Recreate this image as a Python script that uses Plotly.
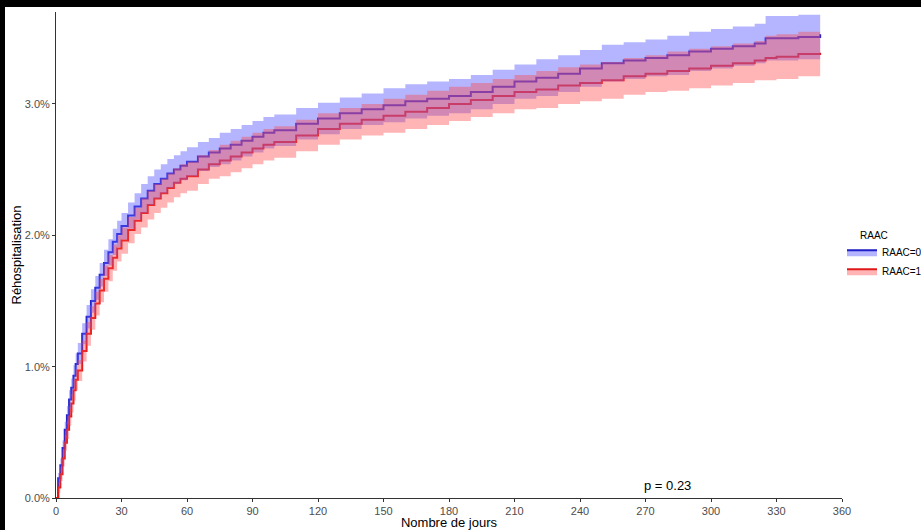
import plotly.graph_objects as go

days = [0, 1, 2, 3, 4, 5, 6, 7, 8, 9, 10, 12, 14, 16, 18, 20, 22, 24, 26, 28, 30,
        33, 36, 39, 42, 45, 48, 51, 54, 57, 60, 65, 70, 75, 80, 85, 90, 95, 100,
        110, 120, 130, 140, 150, 160, 170, 180, 190, 200, 210, 220, 230, 240, 250,
        260, 270, 280, 290, 300, 310, 320, 325, 330, 340, 350]

raac0 = [0, 0.15, 0.25, 0.38, 0.52, 0.63, 0.75, 0.84, 0.93, 1.02, 1.10, 1.25, 1.38, 1.50, 1.60, 1.70,
         1.79, 1.87, 1.95, 2.01, 2.07, 2.15, 2.22, 2.28, 2.34, 2.39, 2.43, 2.47, 2.50, 2.53, 2.56,
         2.60, 2.63, 2.66, 2.69, 2.72, 2.75, 2.78, 2.80, 2.85, 2.89, 2.93, 2.96, 2.99, 3.02, 3.04,
         3.06, 3.09, 3.13, 3.17, 3.20, 3.23, 3.27, 3.31, 3.33, 3.35, 3.37, 3.40, 3.42, 3.44, 3.46,
         3.50, 3.50, 3.51, 3.53]
raac0_lo = [0, 0.11, 0.20, 0.32, 0.46, 0.56, 0.68, 0.77, 0.85, 0.94, 1.02, 1.17, 1.29, 1.41, 1.51, 1.61,
            1.69, 1.77, 1.85, 1.91, 1.97, 2.05, 2.12, 2.17, 2.23, 2.28, 2.32, 2.36, 2.39, 2.42, 2.45,
            2.49, 2.52, 2.54, 2.57, 2.60, 2.63, 2.66, 2.68, 2.73, 2.77, 2.81, 2.84, 2.86, 2.89, 2.91,
            2.93, 2.96, 3.00, 3.04, 3.06, 3.09, 3.13, 3.17, 3.19, 3.21, 3.22, 3.25, 3.27, 3.29, 3.31,
            3.33, 3.33, 3.34, 3.36]
raac0_hi = [0, 0.19, 0.30, 0.44, 0.58, 0.70, 0.82, 0.91, 1.01, 1.10, 1.18, 1.33, 1.47, 1.59, 1.69, 1.79,
            1.89, 1.97, 2.05, 2.11, 2.17, 2.25, 2.32, 2.39, 2.45, 2.50, 2.54, 2.58, 2.61, 2.64, 2.67,
            2.71, 2.74, 2.78, 2.81, 2.84, 2.87, 2.90, 2.92, 2.97, 3.01, 3.05, 3.08, 3.12, 3.15, 3.17,
            3.19, 3.22, 3.26, 3.30, 3.34, 3.37, 3.41, 3.45, 3.47, 3.49, 3.52, 3.55, 3.57, 3.59, 3.61,
            3.67, 3.67, 3.68, 3.70]

raac1 = [0, 0.08, 0.18, 0.30, 0.42, 0.52, 0.62, 0.72, 0.82, 0.90, 0.97, 1.12, 1.25, 1.37, 1.48, 1.58,
         1.67, 1.75, 1.83, 1.90, 1.96, 2.04, 2.11, 2.17, 2.23, 2.28, 2.32, 2.36, 2.40, 2.43, 2.45,
         2.50, 2.54, 2.57, 2.60, 2.63, 2.66, 2.69, 2.71, 2.76, 2.81, 2.85, 2.88, 2.91, 2.94, 2.97,
         3.00, 3.03, 3.06, 3.09, 3.11, 3.14, 3.16, 3.18, 3.21, 3.23, 3.25, 3.27, 3.29, 3.31, 3.33,
         3.35, 3.36, 3.38, 3.39]
raac1_lo = [0, 0.04, 0.13, 0.24, 0.36, 0.45, 0.55, 0.65, 0.74, 0.82, 0.89, 1.04, 1.16, 1.28, 1.39, 1.49,
            1.57, 1.65, 1.73, 1.80, 1.86, 1.94, 2.01, 2.06, 2.12, 2.17, 2.21, 2.25, 2.29, 2.32, 2.34,
            2.39, 2.43, 2.45, 2.48, 2.51, 2.54, 2.57, 2.59, 2.64, 2.69, 2.73, 2.76, 2.78, 2.81, 2.84,
            2.87, 2.90, 2.93, 2.96, 2.97, 3.00, 3.02, 3.04, 3.07, 3.09, 3.10, 3.12, 3.14, 3.16, 3.18,
            3.18, 3.19, 3.21, 3.22]
raac1_hi = [0, 0.12, 0.23, 0.36, 0.48, 0.59, 0.69, 0.79, 0.90, 0.98, 1.05, 1.20, 1.34, 1.46, 1.57, 1.67,
            1.77, 1.85, 1.93, 2.00, 2.06, 2.14, 2.21, 2.28, 2.34, 2.39, 2.43, 2.47, 2.51, 2.54, 2.56,
            2.61, 2.65, 2.69, 2.72, 2.75, 2.78, 2.81, 2.83, 2.88, 2.93, 2.97, 3.00, 3.04, 3.07, 3.10,
            3.13, 3.16, 3.19, 3.22, 3.25, 3.28, 3.30, 3.32, 3.35, 3.37, 3.40, 3.42, 3.44, 3.46, 3.48,
            3.52, 3.53, 3.55, 3.56]

x_ticks = [0, 30, 60, 90, 120, 150, 180, 210, 240, 270, 300, 330, 360]
y_ticks = [0, 1, 2, 3]
y_ticklabels = ["0.0%", "1.0%", "2.0%", "3.0%"]
series_names = ["RAAC=0", "RAAC=1"]
legend_title = "RAAC"
p_text = "p = 0.23"

blue_line = "#1f1fc8"
red_line = "#e01818"
blue_fill = "rgba(90,90,255,0.45)"
red_fill = "rgba(255,70,70,0.40)"

FONT = "Liberation Sans, Arial, sans-serif"

fig = go.Figure()

for vals, col in [(raac0, blue_line), (raac1, red_line)]:
    fig.add_trace(go.Scatter(x=days, y=vals, mode="lines", line=dict(color=col, width=2, shape="hv"),
                             showlegend=False, hoverinfo="skip"))

for lo, hi, fc in [(raac0_lo, raac0_hi, blue_fill), (raac1_lo, raac1_hi, red_fill)]:
    fig.add_trace(go.Scatter(x=days, y=hi, mode="lines", line=dict(width=0, shape="hv"),
                             showlegend=False, hoverinfo="skip"))
    fig.add_trace(go.Scatter(x=days, y=lo, mode="lines", line=dict(width=0, shape="hv"),
                             fill="tonexty", fillcolor=fc, showlegend=False, hoverinfo="skip"))

for name, col, fc in [(series_names[0], blue_line, blue_fill), (series_names[1], red_line, red_fill)]:
    fig.add_trace(go.Scatter(x=[None], y=[None], mode="lines", name=name,
                             line=dict(color=col, width=2), fill="toself", fillcolor=fc))

fig.add_annotation(x=280, y=0.095, text=p_text, showarrow=False, xref="x", yref="y",
                   font=dict(size=13, color="black", family=FONT))

fig.add_annotation(x=(858 - 56) / 786, y=(498.5 - 236) / 486.5, xref="paper", yref="paper",
                   text=legend_title, showarrow=False, xanchor="left", yanchor="middle",
                   font=dict(size=10, color="black", family=FONT))

# black strips along the top and left edges, as in the reference image (pixel-sized)
fig.add_shape(type="rect", xref="paper", yref="paper", x0=-0.08, x1=1.11, y0=1.0103, y1=1.03,
              fillcolor="black", line=dict(width=0), layer="above")
fig.add_shape(type="rect", xref="paper", yref="paper", xsizemode="pixel", xanchor=0,
              x0=-60, x1=-51, y0=-0.08, y1=1.03,
              fillcolor="black", line=dict(width=0), layer="above")

axis_common = dict(showgrid=False, zeroline=False, showline=True, linecolor="#333333", linewidth=1,
                   ticks="outside", ticklen=3, tickcolor="#333333", automargin=False,
                   tickfont=dict(size=11, color="#4d4d4d", family=FONT))

fig.update_layout(
    width=921, height=530,
    margin=dict(l=56, r=79, t=12, b=32, autoexpand=False),
    paper_bgcolor="white", plot_bgcolor="white",
    font=dict(family=FONT),
    hovermode=False,
    xaxis=dict(range=[0, 360], tickvals=x_ticks,
               title=dict(text="Nombre de jours", font=dict(size=13, color="black", family=FONT), standoff=3),
               **axis_common),
    yaxis=dict(range=[0, 3.70], tickvals=y_ticks, ticktext=y_ticklabels,
               title=dict(text="Réhospitalisation", font=dict(size=13, color="black", family=FONT), standoff=0),
               **axis_common),
    legend=dict(x=(842 - 56) / 786, xanchor="left", y=(498.5 - 262) / 486.5, yanchor="middle",
                traceorder="normal", font=dict(size=10, color="black", family=FONT),
                bgcolor="rgba(0,0,0,0)", itemwidth=30, tracegroupgap=0),
)

fig.write_html("out.html", config={"displayModeBar": False},
               post_script="document.body.style.margin='0';document.body.style.padding='0';")
